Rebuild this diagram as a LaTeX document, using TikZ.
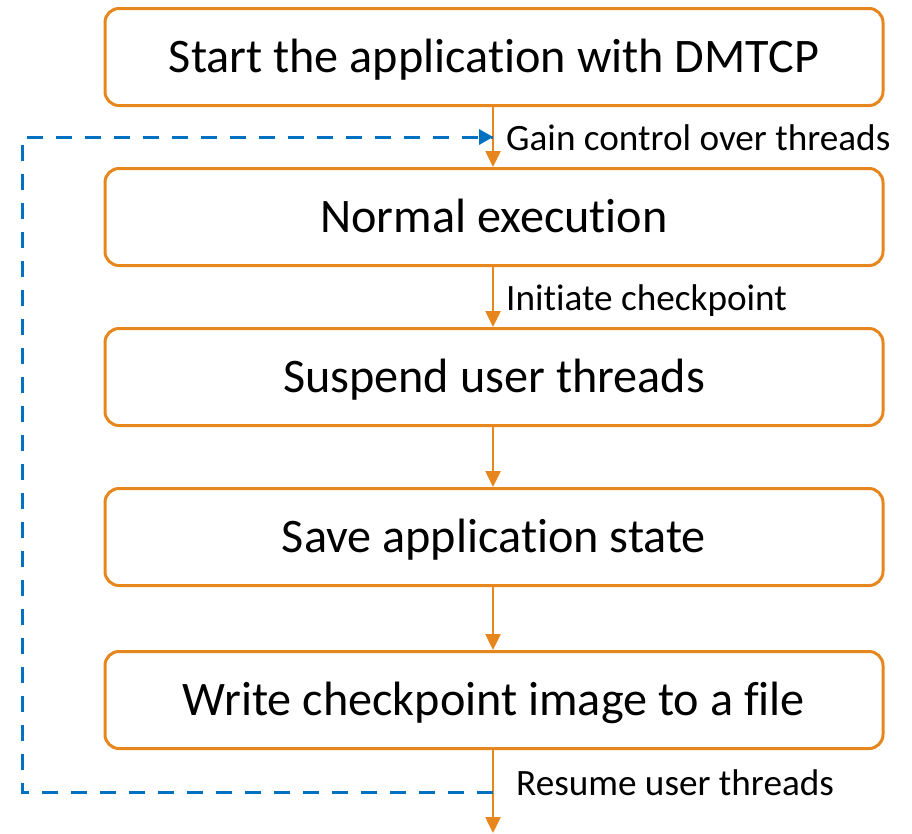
\documentclass[tikz,border=0pt]{standalone}
\usepackage{fontspec}
\setmainfont[Ligatures=NoCommon]{Carlito}
\usetikzlibrary{arrows.meta}
\definecolor{orng}{HTML}{E8861E}
\definecolor{blu}{HTML}{0070C0}
\begin{document}
\begin{tikzpicture}[x=1pt,y=-1pt,
  box/.style={draw=orng,line width=3pt,rounded corners=14pt,minimum width=778pt,minimum height=97pt,inner sep=0pt,text height=30.5pt,text depth=0pt,font=\fontsize{48.2}{56}\selectfont},
  flow/.style={draw=orng,line width=2.5pt,-{Triangle[length=16pt,width=15pt]}},
  back/.style={draw=blu,line width=3pt,dash pattern=on 16pt off 13pt},
  lbl/.style={anchor=base west,inner sep=0pt,font=\fontsize{37.2}{44}\selectfont}]
\useasboundingbox (0,0) rectangle (912,833);
\node[box] (b1) at (494,57) {Start the application with DMTCP};
\node[box] (b2) at (494,217) {Normal execution};
\node[box] (b3) at (494,377) {Suspend user threads};
\node[box] (b4) at (494,537) {Save application state};
\node[box] (b5) at (494,700) {Write checkpoint image to a file};
\coordinate (end) at (493,833);
\coordinate (g) at (493,137);
\coordinate (r) at (493,792);
\coordinate (c1) at (22,137);
\coordinate (c2) at (22,792);
\draw[flow] (b1.south -| end) -- (b2.north -| end);
\draw[flow] (b2.south -| end) -- (b3.north -| end);
\draw[flow] (b3.south -| end) -- (b4.north -| end);
\draw[flow] (b4.south -| end) -- (b5.north -| end);
\draw[flow] (b5.south -| end) -- (end);
\draw[back] (r) -- (c2) -- (c1) -- (g);
\draw[draw=none,fill=blu] (g) -- ++(-14,-8) -- ++(0,16) -- cycle;
\node[lbl] (l1) at (506,150) {Gain control over threads};
\node[lbl] (l2) at (506,310) {Initiate checkpoint};
\node[lbl] (l3) at (516,795) {Resume user threads};
\end{tikzpicture}
\end{document}
